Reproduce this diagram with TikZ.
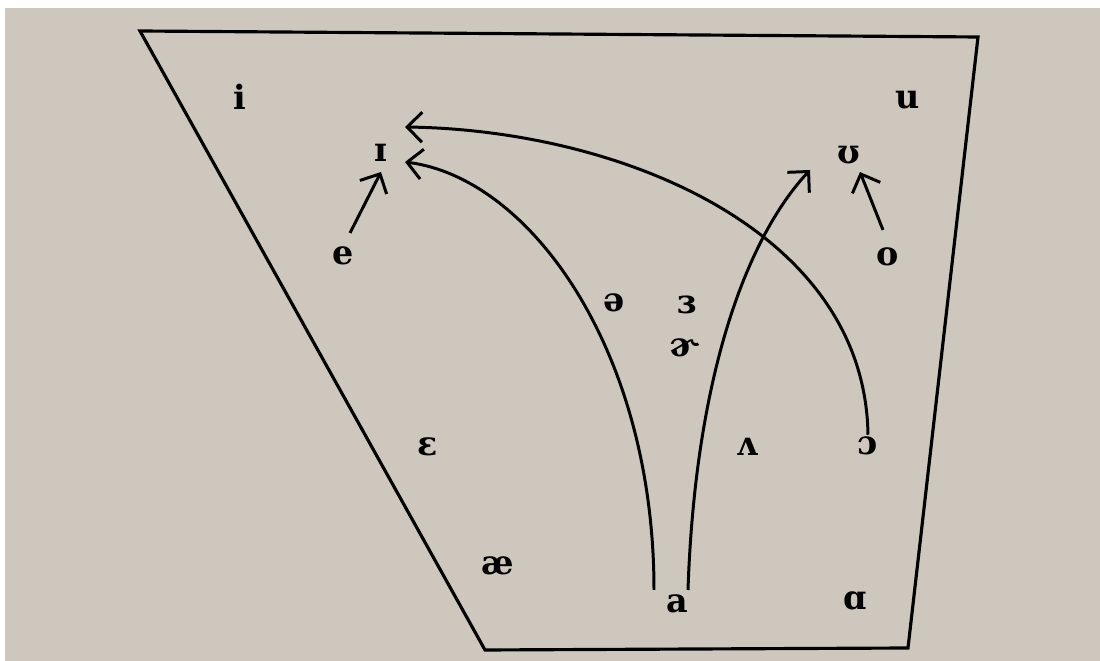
\documentclass[tikz,border=0pt]{standalone}
\usepackage{fontspec}
\setmainfont{DejaVu Serif}
\usetikzlibrary{arrows.meta,calc}
\definecolor{paper}{RGB}{206,199,190}
\tikzset{VOWEL/.style={inner sep=1pt,font=\fontsize{19}{20}\selectfont\bfseries}}
\tikzset{ARROW/.style={line width=1.7pt, -{Straight Barb[length=0.3cm,width=0.6cm,line width=1.7pt]}}}
\tikzset{FRAME/.style={line width=1.8pt, line join=miter}}

\begin{document}
\begin{tikzpicture}[x=0.02cm,y=-0.02cm]

\useasboundingbox (0,0) rectangle (1100,661);
\fill[white] (0,0) rectangle (1100,661);
\fill[paper] (5,8) rectangle (1100,661);

\draw[FRAME] (140,31) -- (978,37) -- (908,648) -- (485,650) -- cycle;

\node[VOWEL] (v_i) at (240,97) {i};
\node[VOWEL] (v_u) at (908,100) {u};
\node[VOWEL] (v_I) at (381,153) {ɪ};
\node[VOWEL] (v_U) at (849,155) {ʊ};
\node[VOWEL] (v_e) at (343,256) {e};
\node[VOWEL] (v_o) at (888,257) {o};
\node[VOWEL] (v_schwa) at (614,303) {ə};
\node[VOWEL] (v_rev) at (687,305) {ɜ};
\node[VOWEL] (v_schwar) at (685,348) {ɚ};
\node[VOWEL] (v_eps) at (428,447) {ɛ};
\node[VOWEL] (v_wedge) at (747,447) {ʌ};
\node[VOWEL] (v_open) at (868,446) {ɔ};
\node[VOWEL] (v_ae) at (498,566) {æ};
\node[VOWEL] (v_a) at (677,604) {a};
\node[VOWEL] (v_alpha) at (855,601) {ɑ};

\coordinate (c_a_left) at ($(v_a)+(-23,-14)$);
\coordinate (c_a_right) at ($(v_a)+(11,-14)$);
\coordinate (c_I_low) at ($(v_I)+(24,9)$);
\coordinate (c_I_high) at ($(v_I)+(24,-26)$);
\coordinate (c_U_tip) at ($(v_U)+(-39,15)$);
\coordinate (c_e_from) at ($(v_e)+(7,-23)$);
\coordinate (c_I_from_e) at ($(v_I)+(0,19)$);
\coordinate (c_o_from) at ($(v_o)+(-5,-27)$);
\coordinate (c_U_from_o) at ($(v_U)+(11,17)$);

\draw[ARROW] (c_e_from) -- (c_I_from_e);
\draw[ARROW] (c_o_from) -- (c_U_from_o);

\draw[ARROW] (c_a_left) .. controls (654,350) and (530,178) .. (c_I_low);
\draw[ARROW] (c_a_right) .. controls (695,380) and (745,240) .. (c_U_tip);
\draw[ARROW] (v_open.north) .. controls (865,230) and (620,130) .. (c_I_high);

\end{tikzpicture}
\end{document}
